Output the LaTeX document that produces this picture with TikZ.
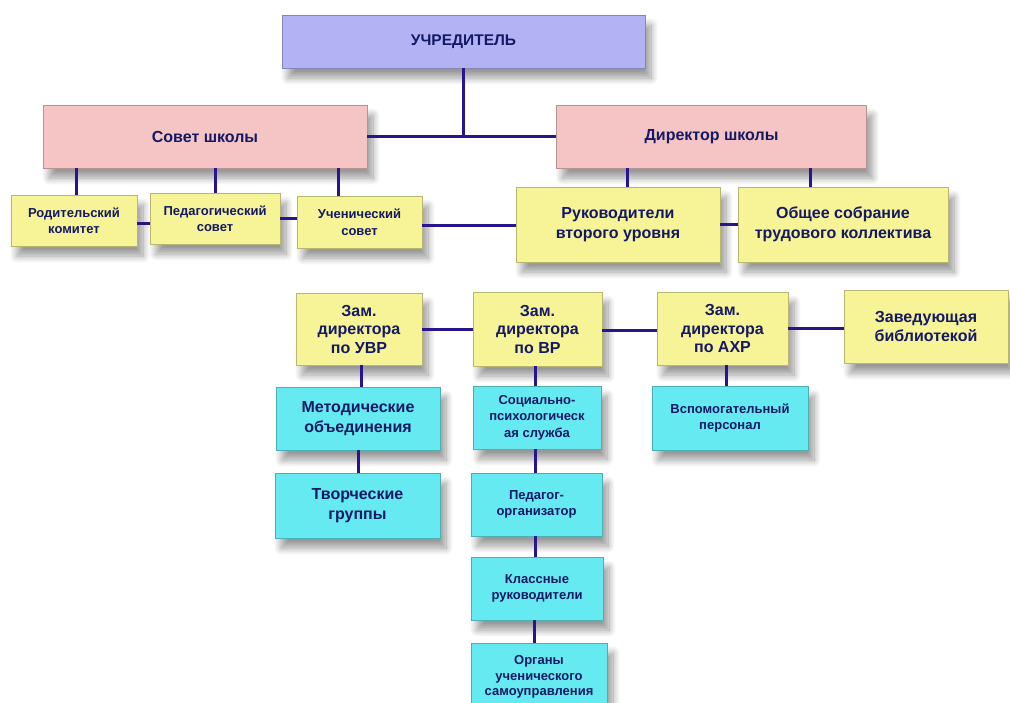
\documentclass[tikz,border=0pt]{standalone}
\usepackage{fontspec}
\setmainfont{Liberation Sans}
\usetikzlibrary{shadows.blur}

\definecolor{lavbox}{RGB}{178,178,245}
\definecolor{pinkbox}{RGB}{245,196,196}
\definecolor{yelbox}{RGB}{246,244,150}
\definecolor{cyanbox}{RGB}{100,234,240}
\definecolor{linknavy}{RGB}{40,20,140}
\definecolor{textnavy}{RGB}{20,25,100}

\tikzset{
  box/.style={draw=#1!75!black, fill=#1, align=center, inner sep=2pt,
    text=textnavy, font=\bfseries,
    blur shadow={shadow xshift=6pt, shadow yshift=-10pt, shadow blur radius=7pt,
      shadow blur steps=12, shadow opacity=40}},
  wh/.style n args={2}{minimum width=#1pt, minimum height=#2pt},
  bigtxt/.style={font=\bfseries\fontsize{16}{19.5}\selectfont},
  smalltxt/.style={font=\bfseries\fontsize{13}{16.5}\selectfont},
  link/.style={draw=linknavy, line width=3pt},
}

\begin{document}
\begin{tikzpicture}[x=1pt,y=-1pt]
\useasboundingbox (0,0) rectangle (1010,702);

% top level
\node [box=lavbox, wh={363}{53}, font=\bfseries\fontsize{15.5}{18}\selectfont] (uchred) at (463.5,41.5) {УЧРЕДИТЕЛЬ};
\node [box=pinkbox, wh={324}{63}, bigtxt] (sovet) at (205,136.5) {Совет школы};
\node [box=pinkbox, wh={310}{63}, bigtxt] (direktor) at (711.5,136.5) {Директор школы};

% second level
\node [box=yelbox, wh={126}{51}, smalltxt] (rod) at (74,220.5) {Родительский\\комитет};
\node [box=yelbox, wh={130}{51}, smalltxt] (ped) at (215,218.5) {Педагогический\\совет};
\node [box=yelbox, wh={125}{52}, smalltxt] (uch) at (359.5,222) {Ученический\\совет};
\node [box=yelbox, wh={204}{75}, bigtxt] (ruk) at (618,224.5) {Руководители\\второго уровня};
\node [box=yelbox, wh={210}{75}, bigtxt] (obsh) at (843,224.5) {Общее собрание\\трудового коллектива};

% deputies
\node [box=yelbox, wh={126}{72}, font=\bfseries\fontsize{16}{18.5}\selectfont] (uvr) at (359,329) {Зам.\\директора\\по УВР};
\node [box=yelbox, wh={129}{74}, font=\bfseries\fontsize{16}{18.5}\selectfont] (vr) at (537.5,329) {Зам.\\директора\\по ВР};
\node [box=yelbox, wh={131}{73}, font=\bfseries\fontsize{16}{18.5}\selectfont] (ahr) at (722.5,328.5) {Зам.\\директора\\по АХР};
\node [box=yelbox, wh={164}{73}, bigtxt] (zav) at (926,326.5) {Заведующая\\библиотекой};

% services
\node [box=cyanbox, wh={164}{63}, bigtxt] (metod) at (358,418.5) {Методические\\объединения};
\node [box=cyanbox, wh={165}{65}, bigtxt] (tvorch) at (357.5,505.5) {Творческие\\группы};
\node [box=cyanbox, wh={128}{63}, smalltxt] (social) at (537,417.5) {Социально-\\психологическ\\ая служба};
\node [box=cyanbox, wh={131}{63}, smalltxt] (pedorg) at (536.5,504.5) {Педагог-\\организатор};
\node [box=cyanbox, wh={132}{63}, smalltxt] (klass) at (537,588.5) {Классные\\руководители};
\node [box=cyanbox, wh={136}{68}, font=\bfseries\fontsize{13}{15.5}\selectfont] (organy) at (539,677) {Органы\\ученического\\самоуправления};
\node [box=cyanbox, wh={156}{64}, smalltxt] (vsp) at (730,418) {Вспомогательный\\персонал};

% connectors
\draw [link] (sovet.east) -- (direktor.west);
\draw [link] (uchred.south) -- (uchred.south |- sovet.east);
\draw [link] ([xshift=2pt]rod.north) -- ([xshift=2pt]rod.north |- sovet.south);
\draw [link] (ped.north) -- (ped.north |- sovet.south);
\draw [link] ([xshift=-21pt]uch.north) -- ([xshift=-21pt]uch.north |- sovet.south);
\draw [link] ([yshift=-3pt]rod.east) -- ([yshift=-3pt]rod.east -| ped.west);
\draw [link] (ped.east) -- (ped.east -| uch.west);
\draw [link] ([yshift=-3pt]uch.east) -- ([yshift=-3pt]uch.east -| ruk.west);
\draw [link] ([xshift=9pt]ruk.north) -- ([xshift=9pt]ruk.north |- direktor.south);
\draw [link] ([xshift=-33pt]obsh.north) -- ([xshift=-33pt]obsh.north |- direktor.south);
\draw [link] (ruk.east) -- (ruk.east -| obsh.west);

\draw [link] (uvr.east) -- (uvr.east -| vr.west);
\draw [link] ([yshift=-1pt]vr.east) -- ([yshift=-1pt]vr.east -| ahr.west);
\draw [link] (ahr.east) -- (ahr.east -| zav.west);

\draw [link] ([xshift=2pt]uvr.south) -- ([xshift=2pt]uvr.south |- metod.north);
\draw [link] (metod.south) -- (metod.south |- tvorch.north);
\draw [link] ([xshift=-2pt]vr.south) -- ([xshift=-2pt]vr.south |- social.north);
\draw [link] ([xshift=-2pt]social.south) -- ([xshift=-2pt]social.south |- pedorg.north);
\draw [link] ([xshift=-1pt]pedorg.south) -- ([xshift=-1pt]pedorg.south |- klass.north);
\draw [link] ([xshift=-3pt]klass.south) -- ([xshift=-3pt]klass.south |- organy.north);
\draw [link] ([xshift=4pt]ahr.south) -- ([xshift=4pt]ahr.south |- vsp.north);
\end{tikzpicture}
\end{document}
